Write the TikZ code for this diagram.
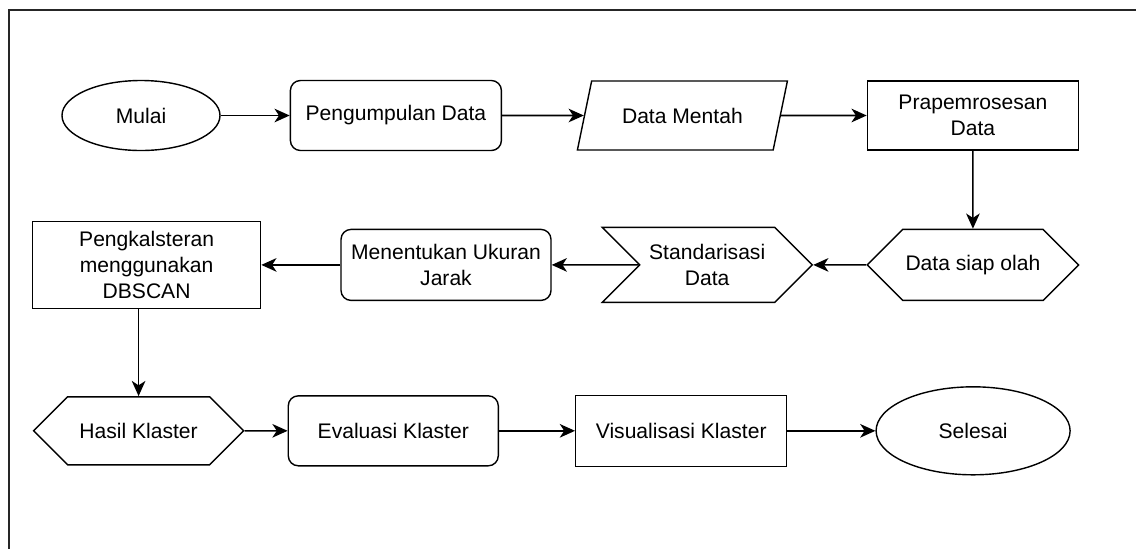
\documentclass[tikz,border=0pt]{standalone}
\usepackage{fontspec}
\setmainfont{Liberation Sans}
\usetikzlibrary{calc,arrows.meta,positioning,shapes.geometric,shapes.symbols}
\tikzset{
  box/.style={draw=black, line width=1pt, align=center, fill=white, inner sep=2pt,
    minimum width=5.25cm, minimum height=1.75cm, font=\fontsize{15}{18.5}\selectfont},
  procbox/.style={box},
  roundbox/.style={box, rounded corners=0.25cm},
  termbox/.style={box, ellipse},
  iobox/.style={box, trapezium, trapezium left angle=56, trapezium right angle=124,
    trapezium stretches body=true},
  prepbox/.style={box, signal, signal to=west and east, signal pointer angle=90},
  stepbox/.style={box, signal, signal from=west, signal to=east, signal pointer angle=90},
  arr/.style={-{Stealth[length=3.8mm,width=3.4mm,inset=1.1mm]}, line width=1.1pt}
}
\begin{document}
\begin{tikzpicture}
  \useasboundingbox (0,0) rectangle (28.4,-13.7);
  \draw[line width=1pt, draw=black!85] (0.225,-0.25) rectangle (29,-14.2);

  % row 1
  \node[termbox, minimum width=3.95cm] (mulai) at (3.525,-2.8875) {Mulai};
  \node[roundbox, right=1.725cm of mulai, minimum width=5.275cm] (kumpul) {Pengumpulan Data};
  \node[iobox, minimum height=1.725cm] (mentah) at ($(kumpul)+(7.1625,0)$) {Data Mentah};
  \node[procbox, minimum width=5.275cm, minimum height=1.725cm] (prap) at ($(mentah)+(7.2625,0)$) {Prapemrosesan\\Data};

  \draw[arr] (mulai) -- (kumpul);
  \draw[arr] (kumpul) -- (mentah);
  \draw[arr] (mentah) -- (prap);

  % row 2, right to left
  \node[prepbox, below=1.95cm of prap, minimum width=5.275cm, minimum height=1.775cm] (siap) {Data siap olah};
  \node[stepbox, left=1.325cm of siap, minimum height=1.875cm] (standar) {Standarisasi\\Data};
  \node[roundbox, left=2.175cm of standar, minimum height=1.775cm] (ukuran) {Menentukan Ukuran\\Jarak};
  \node[procbox, left=1.975cm of ukuran, minimum width=5.7cm, minimum height=2.175cm] (pengk) {Pengkalsteran\\menggunakan\\DBSCAN};

  \draw[arr] (prap) -- (siap);
  \draw[arr] (siap) -- (standar);
  \draw[arr] (standar) -- (ukuran);
  \draw[arr] (ukuran) -- (pengk);

  % row 3
  \node[prepbox, below=2.175cm of pengk, xshift=-0.2cm, minimum height=1.7cm] (hasil) {Hasil Klaster};
  \node[roundbox, right=1.075cm of hasil] (evaluasi) {Evaluasi Klaster};
  \node[procbox, right=1.9cm of evaluasi, minimum width=5.275cm, minimum height=1.775cm] (visual) {Visualisasi Klaster};
  \node[termbox, right=2.2cm of visual, minimum width=4.85cm, minimum height=2.2cm] (selesai) {Selesai};

  \draw[arr] (pengk.south -| hasil.north) -- (hasil.north);
  \draw[arr] (hasil) -- (evaluasi);
  \draw[arr] (evaluasi) -- (visual);
  \draw[arr] (visual) -- (selesai);
\end{tikzpicture}
\end{document}
